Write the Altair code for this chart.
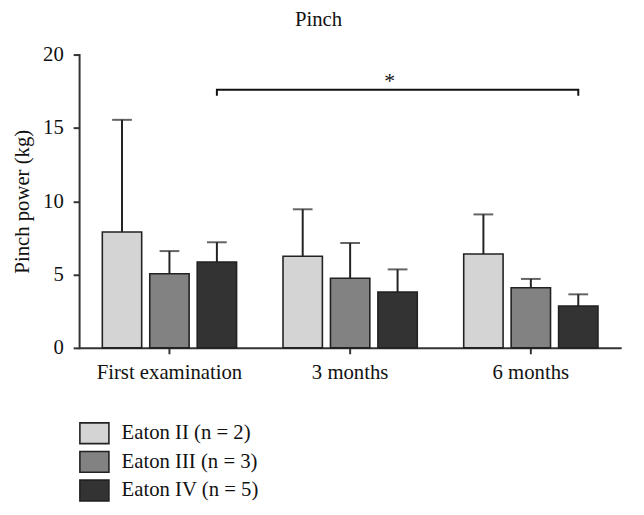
import altair as alt
import pandas as pd

times = ["First examination", "3 months", "6 months"]
groups = ["Eaton II (n = 2)", "Eaton III (n = 3)", "Eaton IV (n = 5)"]
means = {
    "Eaton II (n = 2)": [7.9, 6.25, 6.4],
    "Eaton III (n = 3)": [5.05, 4.75, 4.1],
    "Eaton IV (n = 5)": [5.85, 3.8, 2.85],
}
upper = {
    "Eaton II (n = 2)": [15.55, 9.45, 9.1],
    "Eaton III (n = 3)": [6.6, 7.15, 4.7],
    "Eaton IV (n = 5)": [7.2, 5.35, 3.65],
}
colors = ["#d4d4d4", "#828282", "#333333"]

# significance bracket between first examination and 6 months (Eaton IV)
bracket_time = ["First examination", "First examination", "6 months", "6 months"]
bracket_group = ["Eaton IV (n = 5)"] * 4
bracket_y = [17.2, 17.6, 17.6, 17.2]
star_label = ["*"]
star_y = [18.5]

rows = []
for g in groups:
    for i, t in enumerate(times):
        rows.append({"time": t, "group": g, "mean": means[g][i], "upper": upper[g][i]})
df = pd.DataFrame(rows)

br = pd.DataFrame({"time": bracket_time, "group": bracket_group, "y": bracket_y,
                   "order": list(range(len(bracket_y)))})
st = pd.DataFrame({"time": ["3 months"], "group": ["Eaton IV (n = 5)"], "y": star_y, "label": star_label})

FONT = "Liberation Serif"

x_enc = alt.X("time:N", sort=times, title=None,
              scale=alt.Scale(paddingInner=0.257, paddingOuter=0.1285),
              axis=alt.Axis(labelAngle=0, labelAlign="center", labelBaseline="top",
                            labelFontSize=21, labelFont=FONT, labelColor="#111",
                            domainColor="#333", domainWidth=2, tickColor="#333",
                            tickWidth=2, tickSize=6, labelPadding=8))
xo_enc = alt.XOffset("group:N", sort=groups, scale=alt.Scale(paddingInner=0.17, paddingOuter=0))
y_scale = alt.Scale(domain=[0, 20], nice=False)
y_axis = alt.Axis(values=[0, 5, 10, 15, 20], grid=False, labelFontSize=21, labelFont=FONT,
                  labelColor="#111", titleFont=FONT, titleFontSize=21, titleFontWeight="normal",
                  titleColor="#111", domainColor="#333", domainWidth=2, tickColor="#333",
                  tickWidth=2, tickSize=6, labelPadding=10, titlePadding=10)

bars = alt.Chart(df).mark_bar(stroke="#222", strokeWidth=1.6).encode(
    x=x_enc,
    xOffset=xo_enc,
    y=alt.Y("mean:Q", scale=y_scale, title="Pinch power (kg)", axis=y_axis),
    fill=alt.Fill("group:N", sort=groups, scale=alt.Scale(domain=groups, range=colors),
                  legend=alt.Legend(title=None, orient="none", legendX=4, legendY=372,
                                    labelFont=FONT, labelFontSize=21, labelColor="#111",
                                    symbolType="M-1.4,-1L1.4,-1L1.4,1L-1.4,1Z", symbolSize=441,
                                    symbolStrokeColor="#222", symbolStrokeWidth=1.6,
                                    rowPadding=0, labelOffset=16)),
)

err = alt.Chart(df).mark_rule(color="#222", strokeWidth=2).encode(
    x=x_enc, xOffset=xo_enc,
    y=alt.Y("mean:Q", scale=y_scale, title="Pinch power (kg)", axis=y_axis), y2="upper:Q",
)
caps = alt.Chart(df).mark_tick(color="#222", orient="horizontal", size=20, thickness=2).encode(
    x=x_enc, xOffset=xo_enc,
    y=alt.Y("upper:Q", scale=y_scale, title="Pinch power (kg)", axis=y_axis),
)
bracket = alt.Chart(br).mark_line(color="#111", strokeWidth=2, interpolate="linear").encode(
    x=x_enc, xOffset=xo_enc,
    y=alt.Y("y:Q", scale=y_scale, title="Pinch power (kg)", axis=y_axis), order="order:Q",
)
star = alt.Chart(st).mark_text(font=FONT, fontSize=22, color="#111", dx=-8, dy=5).encode(
    x=x_enc, xOffset=xo_enc,
    y=alt.Y("y:Q", scale=y_scale, title="Pinch power (kg)", axis=y_axis), text="label:N",
)

chart = alt.layer(err, caps, bars, bracket, star).properties(
    width=549, height=297,
    title=alt.Title("Pinch", font=FONT, fontSize=21, fontWeight="normal", color="#111",
                    dx=-32, offset=14),
    autosize=alt.AutoSizeParams(type="none"),
    padding={"left": 72, "top": 44, "right": 15, "bottom": 158},
).configure_view(stroke=None).configure_axisY(domainCap="square")

chart.save("out.html", embed_options={"renderer": "svg", "actions": False})
